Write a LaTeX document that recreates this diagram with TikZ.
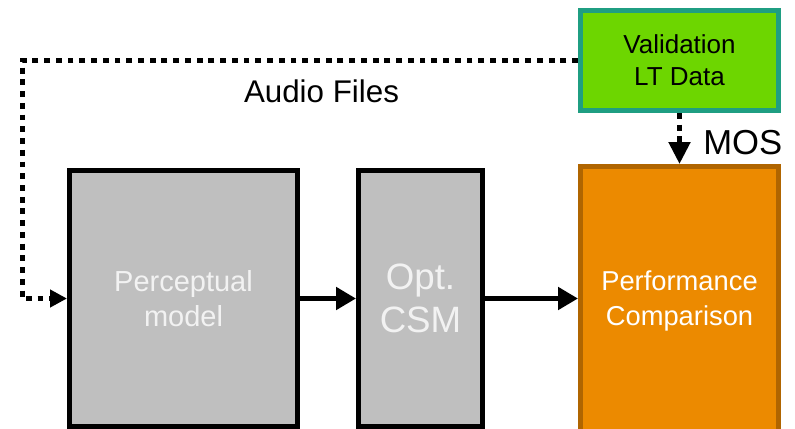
\documentclass[tikz,border=0pt]{standalone}
\usepackage{fontspec}
\setmainfont{Liberation Sans}
\usetikzlibrary{arrows.meta}
\definecolor{valfill}{HTML}{6DD600}
\definecolor{valedge}{HTML}{1F9E82}
\definecolor{greyfill}{HTML}{BFBFBF}
\definecolor{perffill}{HTML}{EC8A00}
\definecolor{perfedge}{HTML}{B06500}
\definecolor{softwhite}{HTML}{F2F2F2}
\begin{document}
\begin{tikzpicture}[x=0.75pt,y=-0.75pt,
  block/.style={rectangle,inner sep=0pt,line width=3.75pt,align=center},
  greyblock/.style={block,draw=black,fill=greyfill,text=softwhite},
  solidarrow/.style={line width=4.2pt,-{Triangle[length=15pt,width=16.5pt]}},
  dotline/.style={line width=3.75pt,dash pattern=on 4.4pt off 4.4pt}]
\useasboundingbox (0,0) rectangle (795,428);
\clip (0,0) rectangle (795,428);

% blocks
\node[block,draw=valedge,fill=valfill,minimum width=148.5pt,minimum height=75pt,
      font=\fontsize{19.5pt}{24pt}\selectfont] (val) at (679.5,60.5) {Validation\\LT Data};
\node[greyblock,minimum width=171pt,minimum height=192pt,
      font=\fontsize{21.75pt}{26.25pt}\selectfont] (perc) at (183.5,298.5) {Perceptual\\model};
\node[greyblock,minimum width=93pt,minimum height=192pt,
      font=\fontsize{27.5pt}{32.25pt}\selectfont] (csm) at (420.5,298.5) {Opt.\\CSM};
\node[block,draw=perfedge,fill=perffill,text=white,minimum width=148.5pt,minimum height=201pt,
      font=\fontsize{20.5pt}{26.25pt}\selectfont] (perf) at (679.5,300.5) {Performance\\Comparison};

% labels
\node[anchor=base,inner sep=0pt,font=\fontsize{23.5pt}{28pt}\selectfont] (audio) at (321.5,102) {Audio Files};
\node[anchor=base west,inner sep=0pt,font=\fontsize{26pt}{30pt}\selectfont] (mos) at (703,154) {MOS};

% connectors
\coordinate (bend) at (22,298.5);
\draw[dotline,-{Triangle[length=12.75pt,width=12.75pt]}] (val.west) -| (bend) -- (perc.west);
\draw[dotline,-{Triangle[length=16.5pt,width=15.75pt]}] (val.south) -- (perf.north);
\draw[solidarrow] (perc.east) -- (csm.west);
\draw[solidarrow] (csm.east) -- (perf.west |- csm.east);
\end{tikzpicture}
\end{document}
